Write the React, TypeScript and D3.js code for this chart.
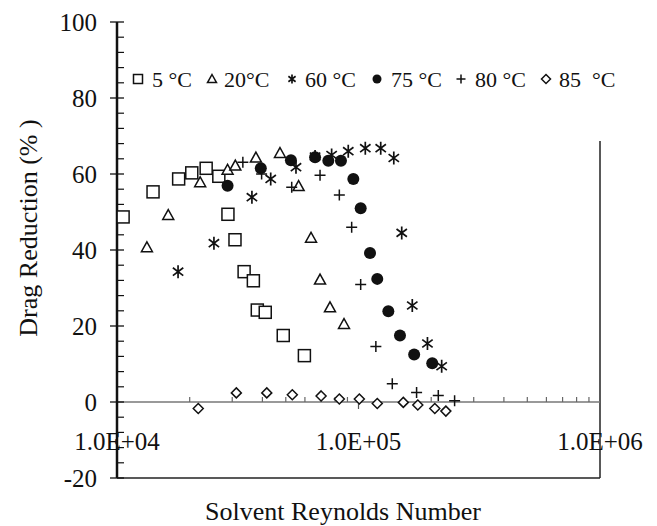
import * as d3 from 'd3';

// Solvent Reynolds number (x) and drag reduction % (y) per temperature
const re5C = [10600, 14100, 18000, 20400, 23400, 26400, 28800, 30800, 33600, 36700, 38100, 41100, 48800, 59700];
const dr5C = [48.7, 55.3, 58.7, 60.3, 61.5, 59.4, 49.4, 42.7, 34.3, 31.9, 24.2, 23.6, 17.5, 12.2];

const re20C = [13300, 16300, 22100, 28700, 30900, 37600, 47300, 56500, 63600, 69300, 76200, 87100];
const dr20C = [40.7, 49.2, 57.8, 61.1, 62.2, 64.3, 65.5, 56.8, 43.2, 32.2, 24.9, 20.5];

const re60C = [17900, 25200, 36200, 43300, 55100, 66100, 77400, 90700, 106700, 123600, 140000, 151000, 167000, 193000, 221000];
const dr60C = [34.3, 41.8, 53.9, 58.7, 61.8, 64.6, 65.0, 66.0, 66.8, 66.8, 64.2, 44.5, 25.4, 15.4, 9.4];

const re75C = [28700, 39400, 52500, 66100, 75000, 84600, 95200, 102100, 111600, 119600, 132900, 148500, 170000, 202000];
const dr75C = [56.9, 61.5, 63.6, 64.4, 63.5, 63.5, 58.7, 51.0, 39.2, 32.4, 23.9, 17.5, 12.5, 10.2];

const re80C = [33200, 39700, 52900, 69300, 83300, 93700, 102100, 118000, 138000, 174000, 214000, 250000];
const dr80C = [63.1, 60.0, 56.5, 59.7, 54.5, 46.0, 30.9, 14.6, 4.8, 2.5, 1.7, 0.3];

const re85C = [21700, 31200, 41700, 53200, 70000, 83300, 100800, 119600, 153300, 176000, 207000, 230000];
const dr85C = [-1.7, 2.4, 2.4, 1.9, 1.6, 0.8, 0.8, -0.4, -0.1, -0.8, -1.7, -2.4];

const seriesLabels = ['5 °C', '20°C', '60 °C', '75 °C', '80 °C', '85  °C'];
const yTicks = [-20, 0, 20, 40, 60, 80, 100];
const xTickLabels = ['1.0E+04', '1.0E+05', '1.0E+06'];
const xMajor = [1e4, 1e5, 1e6];

type Shape = 'square' | 'triangle' | 'star' | 'circle' | 'plus' | 'diamond';

const series: { re: number[]; dr: number[]; shape: Shape }[] = [
    { re: re5C, dr: dr5C, shape: 'square' },
    { re: re20C, dr: dr20C, shape: 'triangle' },
    { re: re60C, dr: dr60C, shape: 'star' },
    { re: re75C, dr: dr75C, shape: 'circle' },
    { re: re80C, dr: dr80C, shape: 'plus' },
    { re: re85C, dr: dr85C, shape: 'diamond' },
];

// legend slots (marker x, text x)
const legendSlots = [
    [138, 152],
    [212, 224],
    [292, 305],
    [377, 391],
    [461, 475],
    [546, 559],
];

const FONT = '"Liberation Serif", "Times New Roman", serif';

function Marker({ shape, cx, cy, s }: { shape: Shape; cx: number; cy: number; s: number }) {
    const h = s / 2;
    const sw = 1.5;
    switch (shape) {
        case 'square':
            return <rect x={cx - h} y={cy - h} width={s} height={s} fill="#fff" stroke="#111" strokeWidth={sw} />;
        case 'triangle':
            return (
                <path
                    d={`M${cx},${cy - h}L${cx + h},${cy + h * 0.8}L${cx - h},${cy + h * 0.8}Z`}
                    fill="#fff"
                    stroke="#111"
                    strokeWidth={sw}
                />
            );
        case 'star': {
            const a = h * 0.8;
            const b = h * 0.6;
            return (
                <path
                    d={`M${cx},${cy - h}V${cy + h}M${cx - a},${cy - b}L${cx + a},${cy + b}M${cx - a},${cy + b}L${cx + a},${cy - b}`}
                    stroke="#111"
                    strokeWidth={1.7}
                    fill="none"
                />
            );
        }
        case 'circle':
            return <circle cx={cx} cy={cy} r={h} fill="#111" />;
        case 'plus':
            return <path d={`M${cx - h},${cy}H${cx + h}M${cx},${cy - h}V${cy + h}`} stroke="#111" strokeWidth={sw} />;
        case 'diamond':
            return (
                <path
                    d={`M${cx},${cy - h}L${cx + h},${cy}L${cx},${cy + h}L${cx - h},${cy}Z`}
                    fill="#fff"
                    stroke="#111"
                    strokeWidth={sw}
                />
            );
    }
    return null;
}

export default function App() {
    const width = 657;
    const height = 526;
    const x = d3.scaleLog().domain([1e4, 1e6]).range([117, 600]);
    const y = d3.scaleLinear().domain([-20, 100]).range([478, 22]);
    const [x0, x1] = x.range();
    const y0 = y(0);

    const minorY = d3.range(-20, 100.1, 4).filter((v) => v % 20 !== 0);
    const minorX = x.ticks().filter((v) => !xMajor.includes(v));

    const markerSize: Record<Shape, number> = {
        square: 12,
        triangle: 11,
        star: 13,
        circle: 12,
        plus: 11,
        diamond: 10,
    };

    return (
        <svg
            width={width}
            height={height}
            style={{ position: 'absolute', left: 0, top: 0, display: 'block', fontFamily: FONT }}
        >
            <rect width={width} height={height} fill="#fff" />

            {/* frame: bottom and right */}
            <line x1={x0} x2={x1} y1={y(-20)} y2={y(-20)} stroke="#222" strokeWidth={1.5} />
            <line x1={x1} x2={x1} y1={141} y2={y(-20)} stroke="#222" strokeWidth={1.5} />

            {/* horizontal axis at zero */}
            <line x1={x0} x2={x1} y1={y0} y2={y0} stroke="#777" strokeWidth={1.5} />
            {minorX.map((v) => (
                <line key={v} x1={x(v)} x2={x(v)} y1={y0} y2={y0 - 5} stroke="#666" strokeWidth={1.2} />
            ))}
            {xMajor.slice(1, 2).map((v) => (
                <line key={v} x1={x(v)} x2={x(v)} y1={y0 - 6} y2={y0 + 7} stroke="#555" strokeWidth={1.2} />
            ))}
            {xMajor.map((v, i) => (
                <text key={v} x={x(v)} y={450} textAnchor="middle" fontSize={25} fill="#111">
                    {xTickLabels[i]}
                </text>
            ))}

            {/* vertical axis */}
            <line x1={x0} x2={x0} y1={y(100)} y2={y(-20)} stroke="#111" strokeWidth={2.5} />
            {yTicks.map((v) => (
                <g key={v}>
                    <line x1={x0 - 7} x2={x0 + 7} y1={y(v)} y2={y(v)} stroke="#111" strokeWidth={1.3} />
                    <text x={97} y={y(v) + 9} textAnchor="end" fontSize={25} fill="#111">
                        {v}
                    </text>
                </g>
            ))}
            {minorY.map((v) => (
                <line key={v} x1={x0} x2={x0 + 7} y1={y(v)} y2={y(v)} stroke="#111" strokeWidth={1.2} />
            ))}

            {/* data */}
            {series.map((s, si) => (
                <g key={si}>
                    {s.re.map((r, i) => (
                        <Marker key={i} shape={s.shape} cx={x(r)} cy={y(s.dr[i])} s={markerSize[s.shape]} />
                    ))}
                </g>
            ))}

            {/* legend */}
            {series.map((s, i) => (
                <g key={i}>
                    <Marker shape={s.shape} cx={legendSlots[i][0]} cy={79} s={s.shape === 'circle' ? 9 : 9} />
                    <text x={legendSlots[i][1]} y={87} fontSize={22} fill="#111" style={{ whiteSpace: 'pre' }}>
                        {seriesLabels[i]}
                    </text>
                </g>
            ))}

            {/* titles */}
            <text x={343} y={520} textAnchor="middle" fontSize={26} fill="#111">
                Solvent Reynolds Number
            </text>
            <text transform="translate(37,228) rotate(-90)" textAnchor="middle" fontSize={26} fill="#111">
                Drag Reduction (% )
            </text>
        </svg>
    );
}
